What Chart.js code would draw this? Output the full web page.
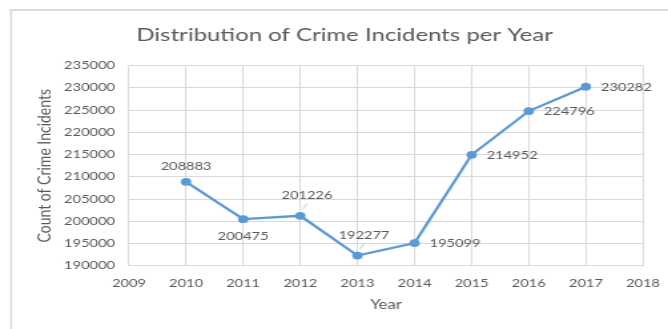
<!DOCTYPE html>
<html>
<head>
<meta charset="utf-8">
<script src="https://cdn.jsdelivr.net/npm/chart.js@4/dist/chart.umd.min.js"></script>
<style>
  html, body { margin: 0; padding: 0; background: #ffffff; }
  #c { display: block; }
</style>
</head>
<body>
<canvas id="c" width="502" height="329" style="width:668px;height:329px"></canvas>
<script>
// Yearly crime incident counts
const years = [2010, 2011, 2012, 2013, 2014, 2015, 2016, 2017];
const incidents = [208883, 200475, 201226, 192277, 195099, 214952, 224796, 230282];

// Axis tick values
const yearTicks = [2009, 2010, 2011, 2012, 2013, 2014, 2015, 2016, 2017, 2018];
const countTicks = [190000, 195000, 200000, 205000, 210000, 215000, 220000, 225000, 230000, 235000];

// Where each value label sits relative to its point
const labelPlacement = ['top', 'bottom', 'topLeader', 'topLeader', 'right', 'right', 'right', 'right'];

const TEXT = '#595959';
const GRID = '#d9d9d9';
const LINE = '#5b9bd5';
const FONT = 'Lato';

// Chart frame: the box starts at x = 8.3 and runs on past the right edge
const FRAME_LEFT = 8.3;
const FRAME_RIGHT = 509.7;

const framePlugin = {
  id: 'frame',
  afterLayout(chart) {
    // centre the title on the whole framed box
    if (chart.titleBlock) {
      chart.titleBlock.left = FRAME_LEFT;
      chart.titleBlock.right = FRAME_RIGHT;
      chart.titleBlock.width = FRAME_RIGHT - FRAME_LEFT;
    }
  },
  beforeDraw(chart) {
    const ctx = chart.ctx;
    ctx.save();
    ctx.fillStyle = '#ffffff';
    ctx.fillRect(0, 0, chart.width, chart.height);
    ctx.strokeStyle = '#dcdcdc';
    ctx.lineWidth = 1.5;
    ctx.beginPath();
    ctx.moveTo(FRAME_LEFT, chart.height);
    ctx.lineTo(FRAME_LEFT, 10);
    ctx.stroke();
    ctx.lineWidth = 2;
    ctx.beginPath();
    ctx.moveTo(FRAME_LEFT - 0.8, 10);
    ctx.lineTo(chart.width, 10);
    ctx.stroke();
    ctx.restore();
  }
};

const valueLabels = {
  id: 'valueLabels',
  afterDatasetsDraw(chart) {
    const ctx = chart.ctx;
    const meta = chart.getDatasetMeta(0);
    const values = chart.data.datasets[0].data;
    ctx.save();
    ctx.font = '11px ' + FONT;
    ctx.fillStyle = TEXT;
    meta.data.forEach((pt, i) => {
      const text = String(values[i].y);
      const x = pt.x, y = pt.y;
      const place = labelPlacement[i];
      ctx.textBaseline = 'middle';
      if (place === 'top') {
        ctx.textAlign = 'center';
        ctx.fillText(text, x, y - 15);
      } else if (place === 'bottom') {
        ctx.textAlign = 'center';
        ctx.fillText(text, x, y + 17.5);
      } else if (place === 'topLeader') {
        ctx.strokeStyle = '#bfbfbf';
        ctx.lineWidth = 0.8;
        ctx.beginPath();
        ctx.moveTo(x + 1.8, y - 6.5);
        ctx.lineTo(x + 5.3, y - 12.5);
        ctx.stroke();
        ctx.textAlign = 'center';
        ctx.fillText(text, x + 5, y - 20);
      } else {
        ctx.textAlign = 'left';
        ctx.fillText(text, x + 11.3, y + 0.5);
      }
    });
    ctx.restore();
  }
};

const canvas = document.getElementById('c');
new Chart(canvas, {
  type: 'line',
  data: {
    datasets: [{
      data: years.map((yr, i) => ({ x: yr, y: incidents[i] })),
      borderColor: LINE,
      backgroundColor: LINE,
      borderWidth: 2.3,
      pointRadius: 3.9,
      pointHoverRadius: 3.9,
      pointBackgroundColor: LINE,
      pointBorderColor: LINE,
      pointBorderWidth: 0,
      tension: 0,
      fill: false
    }]
  },
  options: {
    responsive: false,
    devicePixelRatio: 1,
    animation: false,
    events: [],
    layout: { padding: { left: 0, right: 18.8, top: 0, bottom: 0 } },
    plugins: {
      legend: { display: false },
      tooltip: { enabled: false },
      title: {
        display: true,
        text: 'Distribution of Crime Incidents per Year',
        color: TEXT,
        font: { family: FONT, size: 18, weight: 'normal' },
        padding: { top: 24.3, bottom: 19.8 }
      }
    },
    scales: {
      x: {
        type: 'linear',
        min: yearTicks[0],
        max: yearTicks[yearTicks.length - 1],
        afterBuildTicks(scale) { scale.ticks = yearTicks.map(v => ({ value: v })); },
        afterFit(scale) {
          scale.height = 63.3;
          // edge labels fit inside the layout padding already
          scale.paddingLeft = 0;
          scale.paddingRight = 0;
        },
        grid: { color: GRID, lineWidth: 1, drawTicks: false },
        border: { display: false },
        ticks: {
          color: TEXT,
          font: { family: FONT, size: 11 },
          padding: 11,
          maxRotation: 0,
          autoSkip: false,
          callback: v => String(v)
        },
        title: {
          display: true,
          text: 'Year',
          color: TEXT,
          font: { family: FONT, size: 12.5 },
          padding: { top: 0, bottom: 16.5 }
        }
      },
      y: {
        type: 'linear',
        min: countTicks[0],
        max: countTicks[countTicks.length - 1],
        afterBuildTicks(scale) { scale.ticks = countTicks.map(v => ({ value: v })); },
        afterFit(scale) { scale.width = 96.9; },
        grid: { color: GRID, lineWidth: 1, drawTicks: false },
        border: { display: false },
        ticks: {
          color: TEXT,
          font: { family: FONT, size: 11 },
          padding: 10.5,
          autoSkip: false,
          callback: v => String(v)
        },
        title: {
          display: true,
          text: 'Count of Crime Incidents',
          color: TEXT,
          font: { family: FONT, size: 14 },
          padding: { top: 25.5, bottom: 0 }
        }
      }
    }
  },
  plugins: [framePlugin, valueLabels]
});
// The drawing is 502 units wide and is shown stretched across 668 pixels
canvas.style.width = '668px';
canvas.style.height = '329px';
</script>
</body>
</html>
